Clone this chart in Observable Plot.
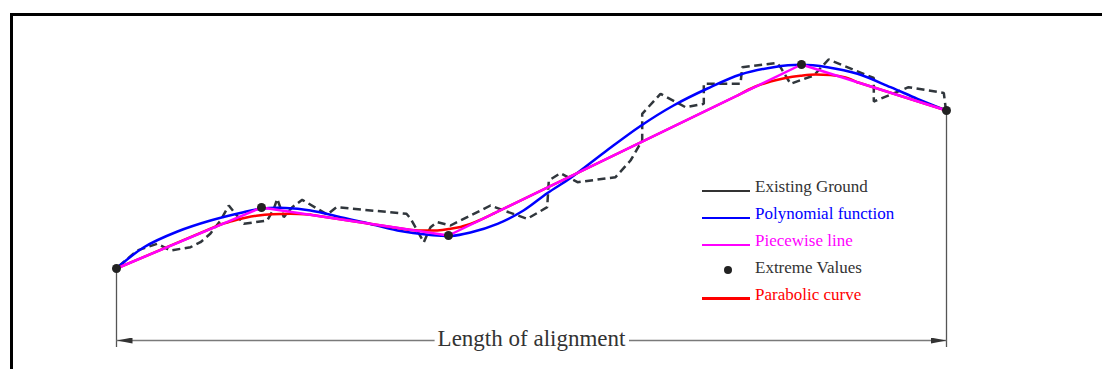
<!DOCTYPE html>
<html><head><meta charset="utf-8">
<script src="https://cdn.jsdelivr.net/npm/d3@7"></script>
<script src="https://cdn.jsdelivr.net/npm/@observablehq/plot@0.6"></script>
<style>
html,body{margin:0;padding:0;background:#fff;}
#wrap{position:relative;width:1102px;height:369px;overflow:hidden;background:#fff;}
#frame{position:absolute;left:10px;top:13px;width:1200px;height:400px;border-top:3px solid #000;border-left:3px solid #000;box-sizing:border-box;}
#chart{position:absolute;left:0;top:0;}
.legtxt{position:absolute;font-family:"Liberation Serif","Times New Roman",serif;font-size:17px;line-height:17px;white-space:nowrap;}
.legline{position:absolute;height:2.5px;}
.legdot{position:absolute;border-radius:50%;}
</style></head><body>
<div id="wrap"><div id="frame"></div><div id="chart"></div></div>
<script>
// Station (m) along the alignment and elevation (m)
const vertices = [[0,51],[145,112],[332,84],[685,255],[830,209]];

const groundPts = [
  [2,53],[20.7,69],[40.7,75.7],[54,69],[74,72.3],[84,77.3],[94,86],[104,99],[112.3,114],
  [119,105.7],[127.3,95.7],[150.7,99],[157.3,110.7],[160.7,120.7],[167.3,102.3],[175.7,112.3],
  [185.7,119.7],[210.7,105],[220,112.3],[290,105.7],[294,101],[307.3,77.3],[314,92.3],
  [320.7,97.3],[334,94],[354,104],[374,114],[387.3,109],[410.7,100.7],[430.7,112.3],
  [432.3,139],[444,146.3],[461,137.3],[499,142.3],[514,159],[525.7,179],[525.7,205.7],
  [544,225.7],[569,212.3],[587.3,215.7],[587.3,235.7],[624,235.7],[625.7,252.3],[660.7,256.5],
  [664,252.3],[674,235.7],[697.3,244],[712,260],[757.3,241.5],[757.3,218],[792,232.3],
  [827.3,226.5],[829,213],[830,209]
];

const polyPts = [
  [0,51],[27,72],[61,88],[94,99],[127,107.3],[144,110.7],[169,111.5],[194,109],[224,102.3],
  [247,97.3],[281,89],[314,84.5],[334,83.5],[354,87],[381,95.7],[407,109],[431,126.5],
  [454,141.5],[489,168],[524,193.5],[557,214],[591,231],[624,245],[657,252.3],[684,254.7],
  [711,252.3],[741,245.7],[774,232.3],[801,220.7],[830,209]
];

const parabolicSegments = [
  [[0,51],[104,95]],
  [[104,95],[116,98.5],[129,101.7],[142,104],[156,105.2],[174,105.7],[194,104.7]],
  [[194,104.7],[291,90]],
  [[291,90],[304,89],[319,89],[332,90.5],[344,92.5],[359,97.5],[377,105.8]],
  [[377,105.8],[622,224.5]],
  [[622,224.5],[639,233],[654,238],[669,241.5],[684,243.7],[699,245],[714,244.5],[729,242],[741,237.2]],
  [[741,237.2],[830,209]]
];

const legendLabels = ["Existing Ground","Polynomial function","Piecewise line","Extreme Values","Parabolic curve"];
const legendColors = ["#333333","#0000ff","#ff00ff","#333333","#ff0000"];
const legendKinds  = ["line","line","line","dot","line"];
const dimLabel = "Length of alignment";

// tables
const toRows = pts => pts.map(([x,y]) => ({x,y}));
const ground = toRows(groundPts);
const poly = toRows(polyPts);
const verts = toRows(vertices);
const parab = parabolicSegments.flatMap((seg,i) => seg.map(([x,y]) => ({x,y,seg:i})));
const ends = [verts[0], verts[verts.length-1]];
const dimY = -21, extBottom = -28, labelY = -19;
const dim = [{x1: ends[0].x, x2: ends[1].x}];
const serif = "Liberation Serif, Times New Roman, serif";

const chart = Plot.plot({
  width:1102, height:369,
  marginLeft:116, marginRight:156, marginTop:19, marginBottom:50,
  x:{domain:[0,830], axis:null},
  y:{domain:[0,300], axis:null},
  style:{fontFamily:serif, background:"transparent", overflow:"visible"},
  marks:[
    Plot.ruleX(ends, {x:"x", y1:"y", y2:() => extBottom, stroke:"#555", strokeWidth:1.3}),
    Plot.link(dim, {x1:"x1", x2:"x2", y1:() => dimY, y2:() => dimY, stroke:"#7a7a7a", strokeWidth:1.6}),
    Plot.text(dim, {x:d => (d.x1+d.x2)/2, y:() => labelY, text:() => dimLabel, fontSize:23, fontFamily:serif, fill:"#333"}),
    Plot.line(ground, {x:"x", y:"y", stroke:"#30363c", strokeWidth:2.5, strokeDasharray:"8,4.5", strokeLinecap:"butt", strokeLinejoin:"miter"}),
    Plot.line(poly, {x:"x", y:"y", curve:"catmull-rom", stroke:"#0000ff", strokeWidth:2.5}),
    Plot.line(parab, {x:"x", y:"y", z:"seg", curve:"monotone-x", stroke:"#ff0000", strokeWidth:2.5}),
    Plot.line(verts, {x:"x", y:"y", stroke:"#ff00ff", strokeWidth:2.5}),
    Plot.dot(verts, {x:"x", y:"y", r:4.5, fill:"#222"})
  ]
});
document.getElementById("chart").appendChild(chart);

const svg = d3.select(chart);
// white box behind the dimension label so the line breaks around it
const txt = svg.select('g[aria-label="text"] text').node();
if (txt) {
  const bb = txt.getBBox();
  const tr = txt.getAttribute("transform");
  const r = d3.select(txt.parentNode).insert("rect", ":first-child")
    .attr("x", bb.x - 3).attr("y", bb.y).attr("width", bb.width + 6).attr("height", bb.height)
    .attr("fill", "white").attr("stroke", "none");
  if (tr) r.attr("transform", tr);
  const tx = txt.getAttribute("x"), ty = txt.getAttribute("y");
  if (tx != null && !tr) { /* bbox already in parent coords */ }
}
// filled arrowheads on the dimension line
const defs = svg.insert("defs", ":first-child");
defs.append("marker").attr("id","dimArr").attr("viewBox","0 0 16 6").attr("refX",16).attr("refY",3)
  .attr("markerWidth",16).attr("markerHeight",6).attr("markerUnits","userSpaceOnUse")
  .attr("orient","auto-start-reverse")
  .append("path").attr("d","M0,0L16,3L0,6Z").attr("fill","#333");
svg.selectAll('g[aria-label="link"] path').attr("marker-start","url(#dimArr)").attr("marker-end","url(#dimArr)");

// legend
const wrap = document.getElementById("wrap");
const base0 = 192.7, step = 26.8;
legendLabels.forEach((lab,i) => {
  const b = base0 + i*step;
  if (legendKinds[i] === "line") {
    const l = document.createElement("div");
    l.className = "legline";
    l.style.left = "702px"; l.style.width = "48px";
    l.style.top = (b - 1.5 - 1.25) + "px";
    l.style.background = legendColors[i];
    wrap.appendChild(l);
  } else {
    const d = document.createElement("div");
    d.className = "legdot";
    d.style.left = (727.7 - 4) + "px"; d.style.top = (b - 3 - 4) + "px";
    d.style.width = "8px"; d.style.height = "8px";
    d.style.background = "#222";
    wrap.appendChild(d);
  }
  const t = document.createElement("div");
  t.className = "legtxt";
  t.style.left = "755px"; t.style.top = (b - 14.24) + "px";
  t.style.color = legendColors[i];
  t.textContent = lab;
  wrap.appendChild(t);
});
</script>
</body></html>
